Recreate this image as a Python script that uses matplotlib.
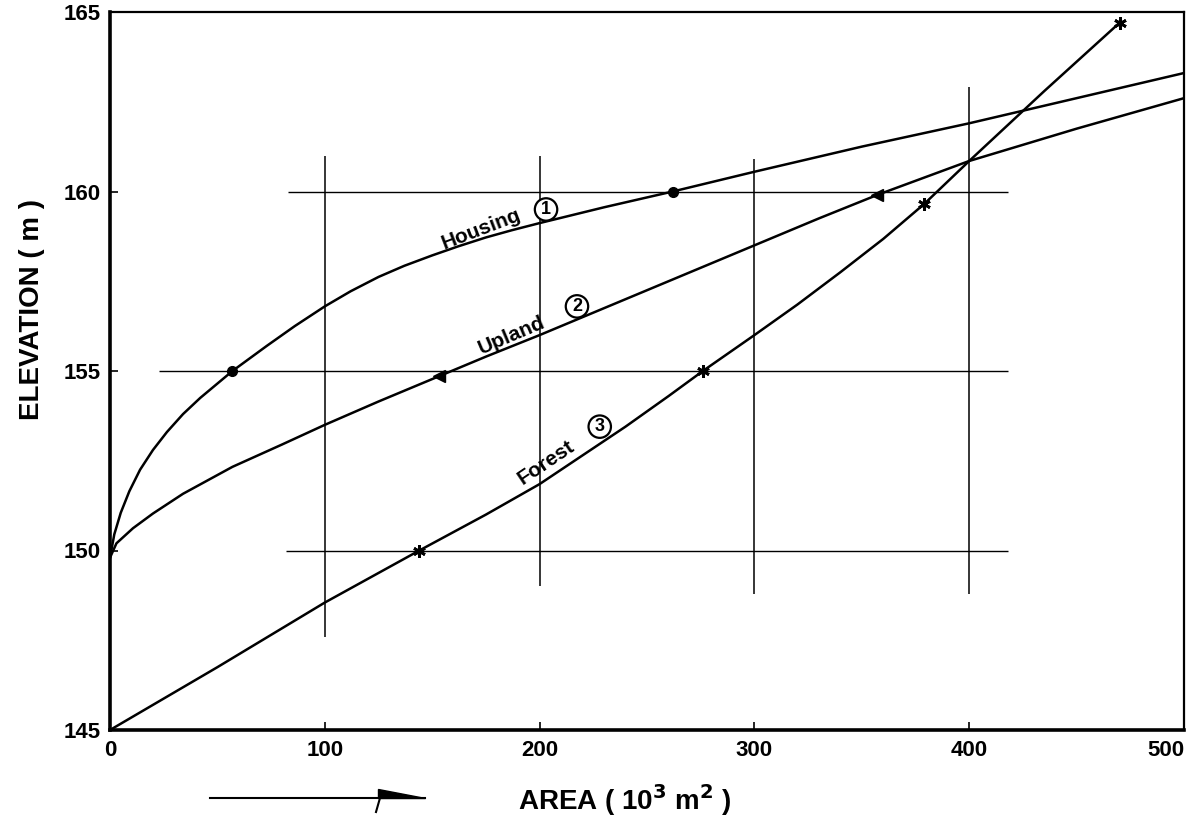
import matplotlib
matplotlib.use('Agg')
import matplotlib.pyplot as plt
from matplotlib.patches import Polygon
from matplotlib.lines import Line2D

plt.rcParams['font.family'] = ['Liberation Sans', 'DejaVu Sans']
plt.rcParams['font.weight'] = 'bold'

# curves (area in 10^3 m2, elevation in m)
housing_x = [0, 2, 5, 9, 14, 20, 26.5, 34, 42, 50, 57, 65, 73, 86, 100, 112, 125, 137, 150, 162, 175,
             187, 200, 230, 262, 300, 350, 400, 450, 500]
housing_y = [149.8, 150.45, 151.05, 151.65, 152.25, 152.8, 153.3, 153.8, 154.25, 154.65, 155.0, 155.35,
             155.7, 156.25, 156.8, 157.22, 157.62, 157.93, 158.22, 158.47, 158.72, 158.92, 159.12, 159.56,
             160.0, 160.55, 161.25, 161.9, 162.6, 163.3]
upland_x = [0, 3, 10.7, 20, 34, 57, 80, 100, 125, 153, 175, 200, 250, 300, 330, 357, 400, 450, 500]
upland_y = [149.8, 150.2, 150.62, 151.03, 151.58, 152.33, 152.95, 153.5, 154.15, 154.85, 155.4, 156.0,
            157.25, 158.5, 159.25, 159.9, 160.85, 161.75, 162.6]
forest_x = [0, 50, 100, 144, 175, 200, 220, 240, 260, 276, 300, 320, 340, 360, 379, 400, 435, 470]
forest_y = [145, 146.75, 148.55, 150, 151.0, 151.85, 152.65, 153.45, 154.3, 155.0, 156.0, 156.85, 157.75,
            158.68, 159.65, 160.85, 162.8, 164.7]

# plotted points on each curve
housing_mx = [57, 262]
housing_my = [155, 160]
upland_mx = [153, 357]
upland_my = [154.85, 159.9]
forest_mx = [144, 276, 379, 470]
forest_my = [150, 155, 159.65, 164.7]

# partial guide lines
hline_y = [160, 155, 150]
hline_x0 = [83, 23, 82]
hline_x1 = [418, 418, 418]
vline_x = [100, 200, 300, 400]
vline_y0 = [147.6, 149.0, 148.8, 148.8]
vline_y1 = [161.0, 161.0, 160.9, 162.9]

xticks = [0, 100, 200, 300, 400, 500]
yticks = [145, 150, 155, 160, 165]

W, H = 1197, 816
fig = plt.figure(figsize=(W / 100, H / 100), dpi=100)
ax = fig.add_axes([110 / W, 1 - 730 / H, (1184 - 110) / W, (730 - 12) / H])

ax.hlines(hline_y, hline_x0, hline_x1, color='k', lw=1.0)
ax.vlines(vline_x, vline_y0, vline_y1, color='k', lw=1.1)

ax.plot(housing_x, housing_y, color='k', lw=1.8)
ax.plot(upland_x, upland_y, color='k', lw=1.8)
ax.plot(forest_x, forest_y, color='k', lw=1.8)

ax.plot(housing_mx, housing_my, 'o', ms=7, color='k', ls='none')
ax.plot(upland_mx, upland_my, '<', ms=8, color='k', ls='none')
ax.plot(forest_mx, forest_my, marker=(6, 2, 0), ms=9, mew=2, color='k', ls='none')

# curve labels
ax.text(172.7, 158.95, 'Housing', rotation=21, ha='center', va='center', fontsize=15)
ax.text(187, 156.0, 'Upland', rotation=23, ha='center', va='center', fontsize=15)
ax.text(203, 152.45, 'Forest', rotation=34, ha='center', va='center', fontsize=15)
circ = dict(boxstyle='circle,pad=0.15', fc='white', ec='k', lw=1.6)
ax.text(203, 159.5, '1', ha='center', va='center', fontsize=13, bbox=circ)
ax.text(217.4, 156.8, '2', ha='center', va='center', fontsize=13, bbox=circ)
ax.text(228, 153.45, '3', ha='center', va='center', fontsize=13, bbox=circ)

ax.set_xlim(0, 500)
ax.set_ylim(145, 165)
ax.set_xticks(xticks)
ax.set_yticks(yticks)
ax.tick_params(direction='in', length=6, width=1.2, labelsize=16, pad=7)
ax.get_xticklabels()[-1].set_ha('right')
for s in ax.spines.values():
    s.set_linewidth(1.6)
ax.spines['left'].set_linewidth(2.6)
ax.spines['bottom'].set_linewidth(2.6)

fig.text(625 / W, 1 - 800 / H, 'AREA ( 10$^{\\mathbf{3}}$ m$^{\\mathbf{2}}$ )', ha='center', va='center',
         fontsize=20)
fig.text(32 / W, 1 - 310 / H, 'ELEVATION ( m )', rotation=90, ha='center', va='center', fontsize=20)

# arrow under the x axis
def px(x, y):
    return x / W, 1 - y / H

fig.lines.append(Line2D(*zip(px(210, 798), px(425, 798)), transform=fig.transFigure, color='k', lw=1.5))
fig.patches.append(Polygon([px(378, 789), px(378, 798), px(425, 798)], closed=True,
                           transform=fig.transFigure, fc='k', ec='k'))
fig.lines.append(Line2D(*zip(px(380, 798), px(376, 812)), transform=fig.transFigure, color='k', lw=1.5))

fig.savefig('out.png', dpi=100)
